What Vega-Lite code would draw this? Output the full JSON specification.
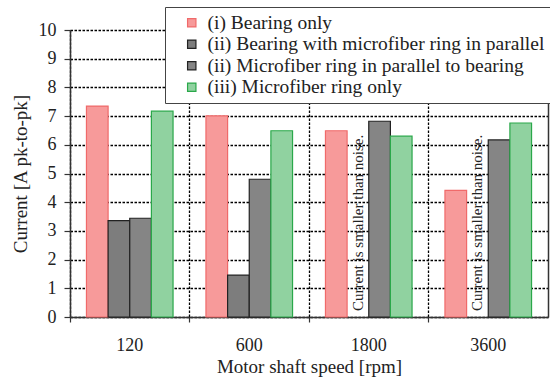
{
  "$schema": "https://vega.github.io/schema/vega-lite/v6.json",
  "autosize": {"type": "none"},
  "padding": {"left": 70, "top": 30, "right": 2, "bottom": 62},
  "width": 478,
  "height": 287,
  "background": "white",
  "config": {
    "font": "Liberation Serif",
    "view": {"stroke": null},
    "axis": {
      "labelFont": "Liberation Serif",
      "titleFont": "Liberation Serif",
      "labelFontSize": 18,
      "titleFontSize": 19,
      "labelColor": "#222",
      "titleColor": "#222",
      "titleFontWeight": "normal",
      "domainColor": "#333",
      "domainWidth": 1.5,
      "tickColor": "#333",
      "tickWidth": 1.2,
      "gridColor": "#000",
      "gridWidth": 1.3,
      "gridDash": [2.5, 1.5],
      "gridOpacity": 1
    },
    "legend": {
      "labelFont": "Liberation Serif",
      "labelFontSize": 19.5,
      "labelColor": "#222",
      "labelLimit": 600
    }
  },
  "datasets": {
    "bars": [
      {"speed": "120", "series": "(i) Bearing only", "value": 7.35},
      {"speed": "120", "series": "(ii) Bearing with microfiber ring in parallel", "value": 3.36},
      {"speed": "120", "series": "(ii) Microfiber ring in parallel to bearing", "value": 3.44},
      {"speed": "120", "series": "(iii) Microfiber ring only", "value": 7.17},
      {"speed": "600", "series": "(i) Bearing only", "value": 7.01},
      {"speed": "600", "series": "(ii) Bearing with microfiber ring in parallel", "value": 1.46},
      {"speed": "600", "series": "(ii) Microfiber ring in parallel to bearing", "value": 4.8},
      {"speed": "600", "series": "(iii) Microfiber ring only", "value": 6.49},
      {"speed": "1800", "series": "(i) Bearing only", "value": 6.49},
      {"speed": "1800", "series": "(ii) Microfiber ring in parallel to bearing", "value": 6.82},
      {"speed": "1800", "series": "(iii) Microfiber ring only", "value": 6.3},
      {"speed": "3600", "series": "(i) Bearing only", "value": 4.41},
      {"speed": "3600", "series": "(ii) Microfiber ring in parallel to bearing", "value": 6.17},
      {"speed": "3600", "series": "(iii) Microfiber ring only", "value": 6.76}
    ],
    "notes": [
      {"speed": "1800", "series": "(ii) Bearing with microfiber ring in parallel", "value": 0, "label": "Current is smaller than noise."},
      {"speed": "3600", "series": "(ii) Bearing with microfiber ring in parallel", "value": 0, "label": "Current is smaller than noise."}
    ]
  },
  "layer": [
    {
      "data": {"name": "bars"},
      "mark": {"type": "bar", "strokeWidth": 1.2},
      "encoding": {
        "x": {
          "field": "speed", "type": "nominal", "sort": ["120", "600", "1800", "3600"],
          "scale": {"paddingInner": 0, "paddingOuter": 0},
          "axis": {
            "title": "Motor shaft speed [rpm]", "labelAngle": 0, "bandPosition": 0,
            "grid": true, "tickSize": 5, "labelPadding": 14, "titlePadding": 3
          }
        },
        "xOffset": {
          "field": "series", "type": "nominal",
          "scale": {"domain": ["(i) Bearing only", "(ii) Bearing with microfiber ring in parallel", "(ii) Microfiber ring in parallel to bearing", "(iii) Microfiber ring only"], "paddingInner": 0, "paddingOuter": 0.76}
        },
        "y": {
          "field": "value", "type": "quantitative",
          "scale": {"domain": [0, 10], "nice": false},
          "axis": {"title": "Current [A pk-to-pk]", "values": [0,1,2,3,4,5,6,7,8,9,10], "tickSize": 6, "labelPadding": 8, "titlePadding": 8}
        },
        "fill": {
          "field": "series", "type": "nominal",
          "scale": {"domain": ["(i) Bearing only", "(ii) Bearing with microfiber ring in parallel", "(ii) Microfiber ring in parallel to bearing", "(iii) Microfiber ring only"], "range": ["#f79a9a", "#7d7d7d", "#858585", "#90d2a0"]},
          "legend": {
            "title": null, "orient": "none", "legendX": 95, "legendY": -23,
            "fillColor": "white", "strokeColor": "#444", "padding": 6,
            "symbolType": "square", "symbolSize": 70, "symbolOffset": 11, "labelOffset": 6,
            "rowPadding": 0.5, "symbolStrokeWidth": 1.2
          }
        },
        "stroke": {
          "field": "series", "type": "nominal",
          "scale": {"domain": ["(i) Bearing only", "(ii) Bearing with microfiber ring in parallel", "(ii) Microfiber ring in parallel to bearing", "(iii) Microfiber ring only"], "range": ["#f06a6a", "#222222", "#222222", "#2aa84a"]},
          "legend": {
            "title": null, "orient": "none", "legendX": 95, "legendY": -23,
            "fillColor": "white", "strokeColor": "#444", "padding": 6,
            "symbolType": "square", "symbolSize": 70, "symbolOffset": 11, "labelOffset": 6,
            "rowPadding": 0.5, "symbolStrokeWidth": 1.2
          }
        }
      }
    },
    {
      "data": {"name": "notes"},
      "mark": {"type": "text", "angle": 270, "align": "left", "baseline": "middle", "dx": 6, "fontSize": 15, "font": "Liberation Serif", "color": "#222"},
      "encoding": {
        "x": {"field": "speed", "type": "nominal", "sort": ["120", "600", "1800", "3600"]},
        "xOffset": {"field": "series", "type": "nominal"},
        "y": {
          "field": "value", "type": "quantitative",
          "axis": {"orient": "right", "labels": false, "ticks": false, "grid": false, "title": null, "domain": true}
        },
        "text": {"field": "label"}
      }
    }
  ],
  "resolve": {"axis": {"y": "independent"}}
}
